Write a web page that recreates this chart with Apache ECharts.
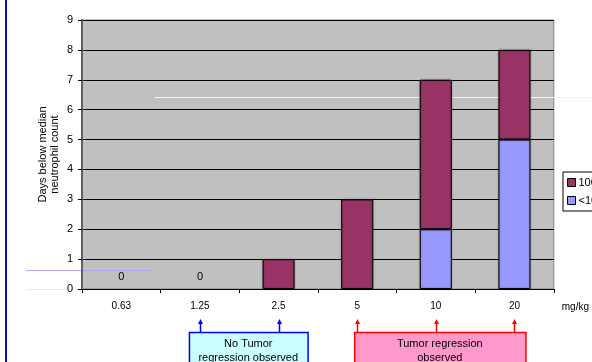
<!DOCTYPE html>
<html>
<head>
<meta charset="utf-8">
<script src="https://cdn.jsdelivr.net/npm/echarts@6/dist/echarts.min.js"></script>
<style>
  html, body { margin: 0; padding: 0; background: #fff; }
  #chart { width: 592px; height: 362px; }
</style>
</head>
<body>
<div id="chart"></div>
<script>
// Dose groups (mg/kg) and days below median neutrophil count
const doses = ['0.63', '1.25', '2.5', '5', '10', '20'];
const daysLow = [0, 0, 0, 0, 2, 5];      // "<10" series (bottom of stack)
const daysHigh = [0, 0, 1, 3, 5, 3];     // "100" series (top of stack)
const yTicks = [0, 1, 2, 3, 4, 5, 6, 7, 8, 9];
const legendNames = ['100', '<10'];
const yTitle = 'Days below median\nneutrophil count';
const noRegressionDoses = ['1.25', '2.5'];
const regressionDoses = ['5', '10', '20'];

const FONT = 'Liberation Sans, Arial, sans-serif';
const chart = echarts.init(document.getElementById('chart'), null, { renderer: 'canvas' });

// zero-height bars get no outline
function barData(values) {
  return values.map(v => v === 0
    ? { value: v, itemStyle: { borderWidth: 0, color: 'rgba(0,0,0,0)', shadowBlur: 0 } }
    : { value: v });
}

chart.setOption({
  animation: false,
  backgroundColor: '#ffffff',
  textStyle: { fontFamily: FONT },
  grid: { left: 82, right: 36, top: 20, bottom: 73, backgroundColor: '#C0C0C0', show: true, borderColor: '#808080', borderWidth: 1 },
  legend: {
    orient: 'vertical',
    left: 563, top: 172,
    itemWidth: 8, itemHeight: 8, itemGap: 7,
    padding: [5, 12, 5, 4],
    borderColor: '#000', borderWidth: 1, backgroundColor: '#fff',
    textStyle: { fontSize: 11, color: '#000', fontFamily: FONT, padding: [0, 0, 0, -2] },
    icon: 'rect',
    data: legendNames.map(n => ({ name: n, itemStyle: { borderColor: '#000', borderWidth: 1 } }))
  },
  xAxis: {
    type: 'category',
    data: doses,
    name: 'mg/kg',
    nameLocation: 'end',
    nameGap: 8,
    nameTextStyle: { fontSize: 10, color: '#000', verticalAlign: 'top', padding: [13, 0, 0, 0] },
    axisLine: { lineStyle: { color: '#000', width: 1 } },
    axisTick: { show: true, length: 4, lineStyle: { color: '#000' } },
    axisLabel: { fontSize: 10, color: '#000', margin: 12 },
    splitLine: { show: false }
  },
  yAxis: {
    type: 'value',
    min: yTicks[0], max: yTicks[yTicks.length - 1], interval: 1,
    axisLine: { show: true, lineStyle: { color: '#606060', width: 2 } },
    axisTick: { show: true, length: 4, lineStyle: { color: '#000' } },
    axisLabel: { fontSize: 11, color: '#000', margin: 9 },
    splitLine: { show: true, lineStyle: { color: '#000', width: 1 } }
  },
  series: [
    {
      name: '<10', type: 'bar', stack: 'days', data: barData(daysLow), barWidth: 32,
      itemStyle: { color: '#9999FF', borderColor: '#000', borderWidth: 1, shadowColor: 'rgba(0,0,0,0.35)', shadowBlur: 2 },
      z: 3
    },
    {
      name: '100', type: 'bar', stack: 'days', data: barData(daysHigh), barWidth: 32,
      itemStyle: { color: '#993366', borderColor: '#000', borderWidth: 1, shadowColor: 'rgba(0,0,0,0.35)', shadowBlur: 2 },
      label: {
        show: true, position: 'top', distance: 7, fontSize: 11, color: '#000',
        formatter: p => (p.value === 0 && daysLow[p.dataIndex] === 0) ? '0' : ''
      },
      z: 3
    }
  ]
});

// Annotation boxes under the dose axis, with arrows pointing up to each dose label
function doseX(d) { return chart.convertToPixel({ xAxisIndex: 0 }, d); }
const arrowTop = 320, boxTop = 332;

function arrows(list, color) {
  const out = [];
  list.forEach(d => {
    const x = Math.round(doseX(d)) + 0.5;
    out.push({ type: 'line', shape: { x1: x, y1: arrowTop + 3, x2: x, y2: boxTop }, style: { stroke: color, lineWidth: 1.5 } });
    out.push({ type: 'polygon', shape: { points: [[x - 2.5, arrowTop + 4], [x + 2.5, arrowTop + 4], [x, arrowTop - 1]] }, style: { fill: color } });
  });
  return out;
}

const blueL = doseX(noRegressionDoses[0]) - 11;
const blueR = doseX(noRegressionDoses[noRegressionDoses.length - 1]) + 29;
const redL = doseX(regressionDoses[0]) - 3;
const redR = doseX(regressionDoses[regressionDoses.length - 1]) + 11;
const yMid = (chart.convertToPixel({ yAxisIndex: 0 }, yTicks[0]) + chart.convertToPixel({ yAxisIndex: 0 }, yTicks[yTicks.length - 1])) / 2;

chart.setOption({
  graphic: [
    // y-axis title, rotated
    { type: 'text', x: 49, y: yMid, rotation: Math.PI / 2,
      style: { x: 0, y: 0, text: yTitle, align: 'center', verticalAlign: 'middle', fontSize: 11, lineHeight: 12, fontFamily: FONT, fill: '#000' } },
    // left frame line
    { type: 'line', shape: { x1: 6, y1: 0, x2: 6, y2: 362 }, style: { stroke: '#1010B0', lineWidth: 2 } },
    // faint stray lines
    { type: 'line', shape: { x1: 26, y1: 270.5, x2: 152, y2: 270.5 }, style: { stroke: '#AAAAF0', lineWidth: 1 } },
    { type: 'line', shape: { x1: 26, y1: 289.5, x2: 152, y2: 289.5 }, style: { stroke: '#F4F4A0', lineWidth: 1 } },
    { type: 'line', shape: { x1: 155, y1: 97.5, x2: 592, y2: 97.5 }, style: { stroke: '#F8F8E0', lineWidth: 1 } },
    { type: 'rect', shape: { x: blueL + 0.5, y: boxTop + 0.5, width: blueR - blueL, height: 40 }, style: { fill: '#CCFFFF', stroke: '#0000FF', lineWidth: 1.5 } },
    { type: 'text', style: { x: (blueL + blueR) / 2, y: boxTop + 5, text: 'No Tumor\nregression observed', align: 'center', verticalAlign: 'top', fontSize: 11, lineHeight: 14, fontFamily: FONT, fill: '#000' } },
    { type: 'rect', shape: { x: redL + 0.5, y: boxTop + 0.5, width: redR - redL, height: 40 }, style: { fill: '#FF99CC', stroke: '#FF0000', lineWidth: 1.5 } },
    { type: 'text', style: { x: (redL + redR) / 2, y: boxTop + 5, text: 'Tumor regression\nobserved', align: 'center', verticalAlign: 'top', fontSize: 11, lineHeight: 14, fontFamily: FONT, fill: '#000' } }
  ].concat(arrows(noRegressionDoses, '#0000FF'), arrows(regressionDoses, '#FF0000'))
});
</script>
</body>
</html>
